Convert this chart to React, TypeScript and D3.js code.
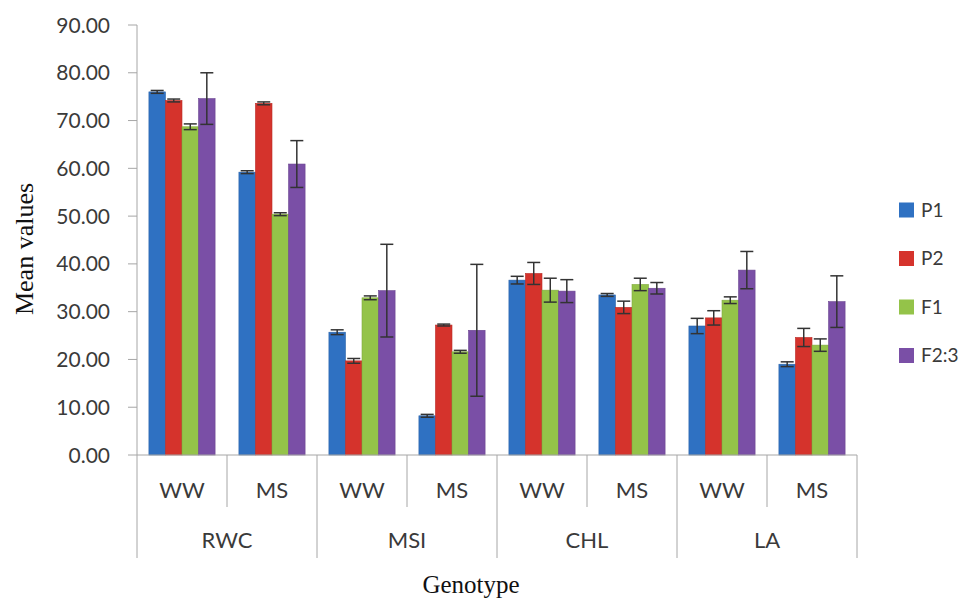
import React from "react";
import * as d3 from "d3";

// data
const traits = ["RWC", "MSI", "CHL", "LA"];
const treatments = ["WW", "MS"];
const series = ["P1", "P2", "F1", "F2:3"];
const colors = ["#2f71c2", "#d5332c", "#94c349", "#7a4fa6"];

// order: RWC-WW, RWC-MS, MSI-WW, MSI-MS, CHL-WW, CHL-MS, LA-WW, LA-MS
const p1Means = [76.0, 59.2, 25.7, 8.2, 36.6, 33.5, 27.0, 19.0];
const p2Means = [74.2, 73.6, 19.7, 27.2, 38.0, 30.9, 28.7, 24.6];
const f1Means = [68.7, 50.4, 32.9, 21.6, 34.5, 35.7, 32.4, 23.0];
const f23Means = [74.6, 60.9, 34.4, 26.1, 34.3, 34.9, 38.7, 32.1];

const p1Err = [0.3, 0.3, 0.5, 0.3, 0.8, 0.3, 1.6, 0.5];
const p2Err = [0.3, 0.3, 0.5, 0.2, 2.3, 1.3, 1.5, 1.9];
const f1Err = [0.6, 0.3, 0.4, 0.3, 2.5, 1.3, 0.7, 1.3];
const f23Err = [5.4, 4.9, 9.7, 13.8, 2.4, 1.2, 3.9, 5.4];

const yTicks = [0, 10, 20, 30, 40, 50, 60, 70, 80, 90];

const allMeans = [p1Means, p2Means, f1Means, f23Means];
const allErr = [p1Err, p2Err, f1Err, f23Err];

const W = 971;
const H = 598;
const M = { left: 137, right: 114, top: 25, bottom: 143 };

const App = () => {
  const cats = traits.flatMap((t) => treatments.map((tr) => `${t}-${tr}`));

  const x0 = d3
    .scaleBand()
    .domain(cats)
    .range([M.left, W - M.right])
    .paddingInner(0)
    .paddingOuter(0);

  const x1 = d3
    .scaleBand()
    .domain(series)
    .range([0, x0.bandwidth()])
    .paddingInner(0)
    .paddingOuter(0.72);

  const y = d3.scaleLinear().domain([0, 90]).range([H - M.bottom, M.top]);

  const base = y(0);
  const tickFont = "Lato, 'Open Sans', sans-serif";
  const serif = "'Liberation Serif', 'DejaVu Serif', serif";
  const axisColor = "#a6a6a6";
  const textColor = "#3a3a3a";

  const traitBand = x0.bandwidth() * treatments.length;
  const capW = 13;

  return (
    <svg
      width={W}
      height={H}
      style={{ position: "absolute", left: 0, top: 0, background: "#fff" }}
    >
      {/* y axis */}
      <line x1={M.left} x2={M.left} y1={y(90)} y2={base} stroke={axisColor} />
      {yTicks.map((t) => (
        <g key={t}>
          <line x1={M.left - 9} x2={M.left} y1={y(t)} y2={y(t)} stroke={axisColor} />
          <text
            x={110}
            y={y(t)}
            dy="0.36em"
            textAnchor="end"
            fontFamily={tickFont}
            fontSize={21}
            fill={textColor}
          >
            {t.toFixed(2)}
          </text>
        </g>
      ))}
      <text
        transform={`translate(24, 249) rotate(-90)`}
        textAnchor="middle"
        dy="0.35em"
        fontFamily={serif}
        fontSize={26}
        fill="#111"
      >
        Mean values
      </text>

      {/* bars */}
      {cats.map((c, ci) =>
        series.map((s, si) => {
          const v = allMeans[si][ci];
          const e = allErr[si][ci];
          const bx = (x0(c) ?? 0) + (x1(s) ?? 0);
          const bw = x1.bandwidth();
          const cx = bx + bw / 2;
          return (
            <g key={`${c}-${s}`}>
              <rect
                x={bx}
                y={y(v)}
                width={bw}
                height={base - y(v)}
                fill={colors[si]}
                stroke={d3.color(colors[si])?.darker(0.4).toString()}
                strokeWidth={0.6}
              />
              <line x1={cx} x2={cx} y1={y(v + e)} y2={y(v - e)} stroke="#333" strokeWidth={1.5} />
              <line x1={cx - capW / 2} x2={cx + capW / 2} y1={y(v + e)} y2={y(v + e)} stroke="#333" strokeWidth={1.5} />
              <line x1={cx - capW / 2} x2={cx + capW / 2} y1={y(v - e)} y2={y(v - e)} stroke="#333" strokeWidth={1.5} />
            </g>
          );
        })
      )}

      {/* x axis */}
      <line x1={M.left} x2={W - M.right} y1={base} y2={base} stroke={axisColor} />
      {cats.map((c, ci) => {
        const left = x0(c) ?? 0;
        const isOuter = ci % treatments.length === 0;
        return (
          <g key={c}>
            <line
              x1={left}
              x2={left}
              y1={base}
              y2={isOuter ? 558 : 507}
              stroke={axisColor}
            />
            <text
              x={left + x0.bandwidth() / 2}
              y={490}
              dy="0.36em"
              textAnchor="middle"
              fontFamily={tickFont}
              fontSize={22}
              fill={textColor}
            >
              {treatments[ci % treatments.length]}
            </text>
          </g>
        );
      })}
      <line x1={W - M.right} x2={W - M.right} y1={base} y2={558} stroke={axisColor} />
      {traits.map((t, ti) => (
        <text
          key={t}
          x={M.left + traitBand * ti + traitBand / 2}
          y={540}
          dy="0.36em"
          textAnchor="middle"
          fontFamily={tickFont}
          fontSize={22}
          fill={textColor}
        >
          {t}
        </text>
      ))}
      <text
        x={471}
        y={584}
        dy="0.35em"
        textAnchor="middle"
        fontFamily={serif}
        fontSize={25}
        fill="#111"
      >
        Genotype
      </text>

      {/* legend */}
      {series.map((s, si) => (
        <g key={s} transform={`translate(899, ${210 + si * 48.5})`}>
          <rect x={0} y={-7.5} width={15} height={15} fill={colors[si]} />
          <text
            x={22}
            y={0}
            dy="0.36em"
            fontFamily={tickFont}
            fontSize={19}
            fill={textColor}
          >
            {s}
          </text>
        </g>
      ))}
    </svg>
  );
};

export default App;
